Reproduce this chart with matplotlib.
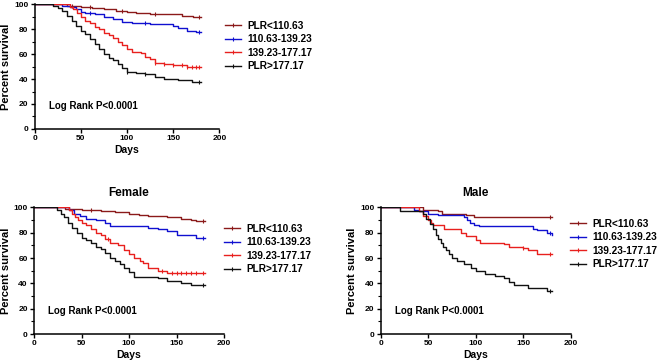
import numpy as np
import matplotlib
matplotlib.use('Agg')
import matplotlib.pyplot as plt
from matplotlib.lines import Line2D

plt.rcParams['font.family'] = ['Liberation Sans', 'DejaVu Sans']
plt.rcParams['font.weight'] = 'bold'

groups = ["PLR<110.63", "110.63-139.23", "139.23-177.17", "PLR>177.17"]
colors = ["#8b1a1a", "#1010d0", "#e8201e", "#111111"]

# overall cohort: (event days, survival %) step points
all_t = [
    [0, 35, 50, 62, 75, 88, 100, 110, 125, 140, 160, 172, 180],
    [0, 30, 38, 45, 50, 55, 65, 75, 85, 95, 105, 125, 150, 155, 165, 175, 180],
    [0, 38, 42, 46, 50, 55, 60, 65, 70, 75, 80, 85, 90, 95, 100, 105, 115, 120, 125, 130, 140, 150, 165, 180],
    [0, 20, 25, 30, 35, 40, 45, 50, 55, 60, 65, 70, 75, 80, 85, 90, 95, 100, 110, 120, 130, 140, 155, 170, 180],
]
all_s = [
    [100, 99, 98, 97, 96, 95, 94, 93, 92.5, 92, 91, 90, 90],
    [100, 99, 98, 96, 94, 93, 92, 90, 88, 86, 85, 84, 83, 81, 79, 77.5, 77.5],
    [100, 98, 96, 93, 90, 87, 85, 82, 80, 77, 75, 73, 70, 67, 64, 62, 61, 58, 56, 53, 52, 51, 50, 50],
    [100, 99, 97, 95, 91, 87, 83, 79, 76, 72, 68, 64, 60, 57, 55, 52, 49, 46, 45, 44, 42, 40, 39, 38, 38],
]
all_cens = [[40, 60, 95, 130, 178], [60, 120, 178], [130, 140, 150, 160, 165, 170, 175, 178], [100, 120, 178]]

# female
fem_t = [
    [0, 33, 50, 70, 85, 100, 110, 120, 140, 155, 165, 170, 180],
    [0, 37, 42, 48, 55, 65, 75, 80, 100, 120, 130, 140, 150, 170, 180],
    [0, 37, 40, 43, 46, 50, 55, 60, 65, 70, 75, 80, 88, 95, 100, 105, 112, 115, 120, 130, 140, 180],
    [0, 24, 28, 32, 36, 40, 45, 50, 55, 60, 65, 70, 75, 80, 85, 90, 95, 100, 105, 130, 140, 155, 165, 180],
]
fem_s = [
    [100, 99, 98, 97, 96, 95, 94, 93, 92, 91, 90, 89, 89],
    [100, 98, 95, 93, 91, 90, 88, 85, 85, 84, 83, 81, 78, 76, 76],
    [100, 98, 95, 92, 90, 88, 86, 83, 80, 78, 75, 72, 70, 66, 63, 60, 58, 56, 52, 50, 48, 48],
    [100, 98, 95, 92, 88, 84, 80, 76, 74, 72, 69, 67, 64, 60, 58, 55, 52, 49, 45, 44, 42, 40, 39, 39],
]
fem_cens = [[60, 178], [178], [78, 135, 145, 150, 155, 160, 165, 170, 178], [178]]

# male
male_t = [
    [0, 45, 60, 65, 90, 98, 180],
    [0, 35, 40, 50, 60, 88, 91, 94, 98, 103, 160, 165, 175, 180],
    [0, 40, 45, 50, 53, 55, 67, 85, 90, 100, 105, 130, 135, 150, 155, 165, 180],
    [0, 20, 45, 48, 52, 55, 58, 60, 63, 66, 69, 72, 75, 80, 88, 95, 100, 110, 120, 130, 135, 140, 155, 175, 180],
]
male_s = [
    [100, 98, 97, 95, 94, 92, 92],
    [100, 98, 97, 95, 94, 92, 90, 88, 86, 85, 83, 82, 80, 78],
    [100, 97, 93, 90, 88, 86, 83, 80, 77, 74, 72, 71, 69, 68, 66, 63, 63],
    [100, 97, 95, 91, 87, 83, 78, 75, 72, 69, 66, 63, 60, 58, 55, 52, 50, 47, 46, 44, 41, 39, 36, 34, 34],
]
male_cens = [[178], [178], [150, 178], [178]]


def km_panel(ax, ts, ss, cens, title=None, leg_anchor=(1.03, 0.8)):
    for t, s, c, col, lab in zip(ts, ss, cens, colors, groups):
        ax.step(t, s, where='post', color=col, lw=1.0, label=lab)
        cs = [s[np.searchsorted(t, x, side='right') - 1] for x in c]
        ax.plot(c, cs, ls='none', marker='|', ms=3.5, mew=0.8, color=col)
    ax.set_xlim(0, 200)
    ax.set_ylim(0, 100)
    ax.set_xticks([0, 50, 100, 150, 200])
    ax.set_yticks([0, 20, 40, 60, 80, 100])
    ax.set_yticks(np.arange(0, 101, 10), minor=True)
    ax.spines['top'].set_visible(False)
    ax.spines['right'].set_visible(False)
    for sp in ['left', 'bottom']:
        ax.spines[sp].set_linewidth(1.1)
    ax.tick_params(which='major', direction='out', length=3, width=1, labelsize=6, pad=1.5)
    ax.tick_params(which='minor', direction='out', length=2, width=0.8)
    ax.set_xlabel('Days', fontsize=7.5, fontweight='bold', labelpad=2)
    ax.set_ylabel('Percent survival', fontsize=8, fontweight='bold', labelpad=2)
    ax.text(15, 18, 'Log Rank P<0.0001', fontsize=7, fontweight='bold', va='center')
    if title:
        ax.set_title(title, fontsize=8.5, fontweight='bold', pad=8)
    handles = [Line2D([], [], color=col, lw=1.0, marker='|', ms=3.5, mew=0.8) for col in colors]
    ax.legend(handles, groups, loc='upper left', bbox_to_anchor=leg_anchor, frameon=False,
              handlelength=1.6, handletextpad=0.6, labelspacing=0.35,
              borderaxespad=0, borderpad=0, prop={'weight': 'bold', 'size': 7.3})


fig = plt.figure(figsize=(6.58, 3.64), dpi=100)
ax1 = fig.add_axes([0.0527, 0.646, 0.2806, 0.342])
ax2 = fig.add_axes([0.0517, 0.0824, 0.2888, 0.348])
ax3 = fig.add_axes([0.5786, 0.0824, 0.2888, 0.348])

km_panel(ax1, all_t, all_s, all_cens, leg_anchor=(1.03, 0.87))
km_panel(ax2, fem_t, fem_s, fem_cens, title='Female', leg_anchor=(1.0, 0.87))
km_panel(ax3, male_t, male_s, male_cens, title='Male', leg_anchor=(0.995, 0.91))

fig.savefig('out.png', dpi=100)
